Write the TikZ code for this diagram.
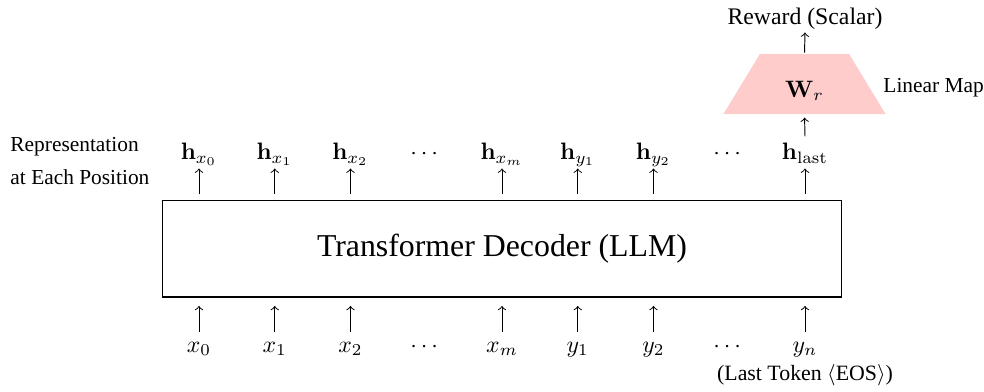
\documentclass[tikz,border=0pt]{standalone}
\usepackage[no-math]{fontspec}
\setmainfont{Liberation Serif}
\usepackage{amsmath}
\usepackage{xcolor}
\usetikzlibrary{shapes.geometric, positioning}
\definecolor{rewardpink}{RGB}{255, 204, 204}

\begin{document}
\begin{tikzpicture}[
    x=0.42105pt, y=-0.42105pt,
    every node/.style={font=\fontsize{10}{12}\selectfont},
    tok/.style={anchor=base, inner sep=0pt, text height=8.4pt},
    rep/.style={anchor=base, inner sep=0pt, text height=9.5pt, text depth=3.6pt}
]
\useasboundingbox (0,0) rectangle (984,391);

\node[draw, line width=0.8pt, minimum width=285.9pt, minimum height=40.6pt, inner sep=0pt, font=\fontsize{13.4}{16}\selectfont] (dec) at (502, 248.7) {Transformer Decoder (LLM)};

% inputs below, representations above
\foreach \i/\tk/\hv in {0/x_0/\mathbf{h}_{x_0}, 1/x_1/\mathbf{h}_{x_1}, 2/x_2/\mathbf{h}_{x_2}, 3/\cdots/\cdots, 4/x_m/\mathbf{h}_{x_m}, 5/y_1/\mathbf{h}_{y_1}, 6/y_2/\mathbf{h}_{y_2}, 7/\cdots/\cdots, 8/y_n/\mathbf{h}_{\mathrm{last}}} {
    \node[tok] (tok\i) at (199+75.75*\i, 352) {$\tk$};
    \node[rep] (rep\i) at (199+75.75*\i, 159.5) {$\hv$};
}
\foreach \i in {0,1,2,4,5,6,8} {
    \draw[->, shorten >=3.4pt] (tok\i.north) -- (tok\i.north |- dec.south);
    \draw[->, shorten <=2.3pt] (rep\i.south |- dec.north) -- (rep\i.south);
}

% reward head
\node[trapezium, trapezium angle=58.7, fill=rewardpink, minimum width=60.2pt, minimum height=25.3pt, inner sep=0pt, text height=11pt, text depth=0pt] (wr) at (804.5, 84) {$\mathbf{W}_r$};
\node[anchor=base, inner sep=0pt, text depth=3.4pt] (reward) at (805, 24) {Reward (Scalar)};
\draw[->, shorten >=1.3pt] (rep8.north) -- (wr.south);
\draw[->, shorten <=0.4pt] (wr.north) -- (reward.south);

\node[anchor=west, inner sep=0pt, font=\fontsize{9}{11}\selectfont] (linmap) at (883, 88) {Linear Map};
\node[anchor=west, inner sep=0pt, align=left, font=\fontsize{9}{13.5}\selectfont] (replbl) at (10, 161) {Representation\\at Each Position};
\node[anchor=base, inner sep=0pt, font=\fontsize{9.2}{11}\selectfont] (eos) at (805, 380) {(Last Token $\langle$EOS$\rangle$)};
\end{tikzpicture}
\end{document}
